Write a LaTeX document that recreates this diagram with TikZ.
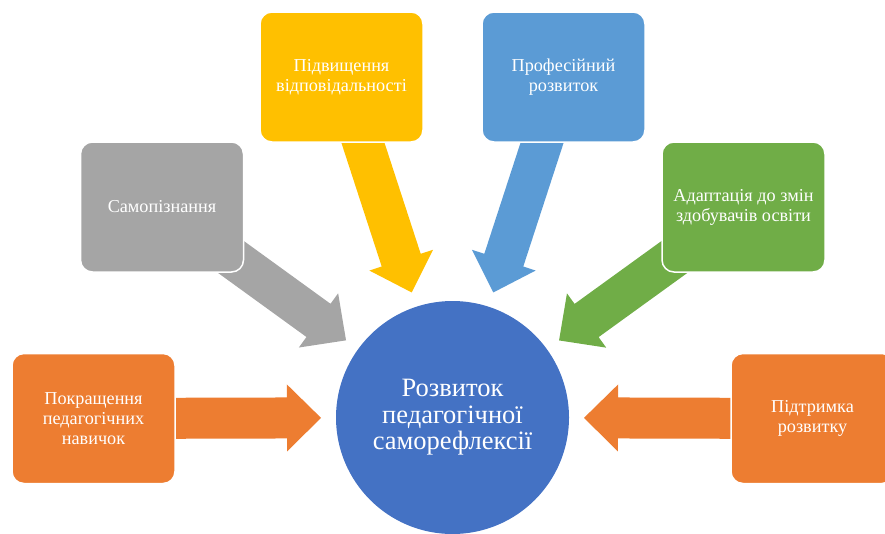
\documentclass[tikz,border=0pt]{standalone}
\usepackage{fontspec}
\setmainfont{Liberation Serif}
\usetikzlibrary{calc}
\definecolor{cOrange}{HTML}{ED7D31}
\definecolor{cGray}{HTML}{A5A5A5}
\definecolor{cYellow}{HTML}{FFC000}
\definecolor{cLBlue}{HTML}{5B9BD5}
\definecolor{cGreen}{HTML}{70AD47}
\definecolor{cBlue}{HTML}{4472C4}
\tikzset{
  box/.style={draw=white, line width=1.5pt, rounded corners=12pt,
    minimum width=163pt, minimum height=130pt, text=white, align=center,
    font=\fontsize{18.2}{20}\selectfont, inner sep=0pt},
  hub/.style={circle, fill=cBlue, minimum size=233pt, inner sep=0pt,
    text=white, align=center, font=\fontsize{26.5}{26.5}\selectfont},
}
\newcommand\blockarrow[3]{%
  \coordinate (h) at ($(#3)!34pt!(#2)$);
  \fill[#1] ($(#2)!20.5pt!90:(#3)$) -- ($(h)!20.5pt!-90:(#2)$)
    -- ($(h)!33.5pt!-90:(#2)$) -- (#3) -- ($(h)!33.5pt!90:(#2)$)
    -- ($(h)!20.5pt!90:(#2)$) -- ($(#2)!20.5pt!-90:(#3)$) -- cycle;
}
\begin{document}
\begin{tikzpicture}[x=1pt, y=-1pt]
\useasboundingbox (0,0) rectangle (885,533);
\clip (0,0) rectangle (885,533);
\node[hub] (c) at (452.5,417.5) {Розвиток\\педагогічної\\саморефлексії};
% box centres
\coordinate (p1) at (93.5,418.5);
\coordinate (p2) at (162,207);
\coordinate (p3) at (341.5,77);
\coordinate (p4) at (563.5,77);
\coordinate (p5) at (743.5,207);
\coordinate (p6) at (812.5,418.5);
% arrow tips
\coordinate (t1) at ($(c.center)!131.5pt!(p1)$);
\coordinate (t2) at ($(c.center)!131.5pt!(p2)$);
\coordinate (t3) at ($(c.center)!131.5pt!(p3)$);
\coordinate (t4) at ($(c.center)!131.5pt!(p4)$);
\coordinate (t5) at ($(c.center)!131.5pt!(p5)$);
\coordinate (t6) at ($(c.center)!131.5pt!(p6)$);
\blockarrow{cOrange}{p1}{t1}
\blockarrow{cGray}{p2}{t2}
\blockarrow{cYellow}{p3}{t3}
\blockarrow{cLBlue}{p4}{t4}
\blockarrow{cGreen}{p5}{t5}
\blockarrow{cOrange}{p6}{t6}
\node[box, fill=cOrange] (b1) at (p1) {Покращення\\педагогічних\\навичок};
\node[box, fill=cGray] (b2) at (p2) {Самопізнання};
\node[box, fill=cYellow] (b3) at (p3) {Підвищення\\відповідальності};
\node[box, fill=cLBlue] (b4) at (p4) {Професійний\\розвиток};
\node[box, fill=cGreen] (b5) at (p5) {Адаптація до змін\\здобувачів освіти};
\node[box, fill=cOrange] (b6) at (p6) {Підтримка\\розвитку};
\end{tikzpicture}
\end{document}
